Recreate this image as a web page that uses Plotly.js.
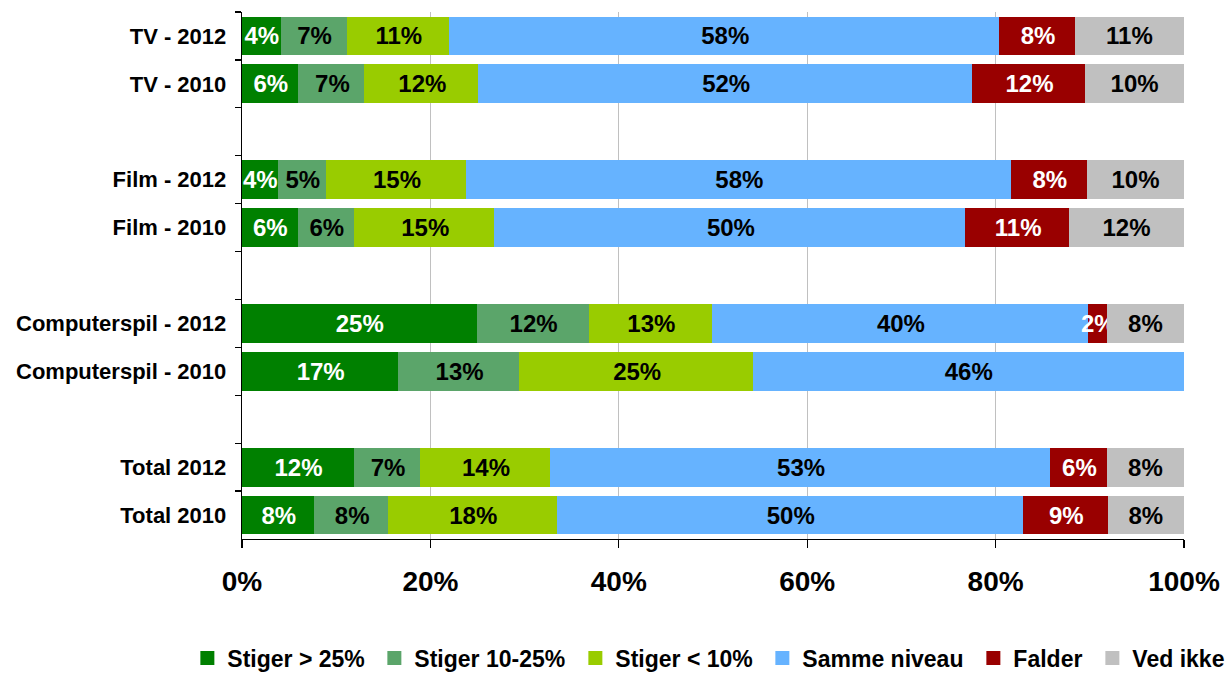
<!DOCTYPE html>
<html>
<head>
<meta charset="utf-8">
<script src="https://cdn.plot.ly/plotly-3.0.1.min.js"></script>
<style>html,body{margin:0;padding:0;background:#fff;}#chart{width:1225px;height:679px;}</style>
</head>
<body>
<div id="chart"></div>
<script>
// Categories, top to bottom (blank entries are gaps between groups)
const categories = ["TV - 2012", "TV - 2010", " ", "Film - 2012", "Film - 2010", "  ",
  "Computerspil - 2012", "Computerspil - 2010", "   ", "Total 2012", "Total 2010"];
const barCategories = ["TV - 2012", "TV - 2010", "Film - 2012", "Film - 2010",
  "Computerspil - 2012", "Computerspil - 2010", "Total 2012", "Total 2010"];

const seriesNames = ["Stiger > 25%", "Stiger 10-25%", "Stiger < 10%", "Samme niveau", "Falder", "Ved ikke"];

const stigerOver25  = [4.2, 6.1, 3.9, 6.0, 25.0, 16.7, 12.0, 7.8];
const stiger10til25 = [7.0, 7.0, 5.1, 6.0, 11.9, 12.8, 7.0, 7.8];
const stigerUnder10 = [10.9, 12.1, 14.9, 14.9, 13.1, 24.9, 13.8, 17.9];
const sammeNiveau   = [58.4, 52.4, 57.8, 50.0, 39.9, 45.5, 53.1, 49.5];
const falder        = [8.0, 12.0, 8.1, 11.0, 2.0, null, 6.0, 9.0];
const vedIkke       = [11.4, 10.3, 10.1, 12.0, 8.0, null, 8.0, 7.9];

const xTickValues = [0, 20, 40, 60, 80, 100];
const xTickLabels = ["0%", "20%", "40%", "60%", "80%", "100%"];

const seriesValues = [stigerOver25, stiger10til25, stigerUnder10, sammeNiveau, falder, vedIkke];
const colors = ["#008000", "#5BA56A", "#99CC00", "#66B3FF", "#990000", "#C0C0C0"];
const textColors = ["#ffffff", "#000000", "#000000", "#000000", "#ffffff", "#000000"];

const FONT = "Liberation Sans, Arial, sans-serif";
const LEGEND_SIZE = 23;

// measure legend text so entries are spaced as in the original
const cv = document.createElement("canvas").getContext("2d");
cv.font = "bold " + LEGEND_SIZE + "px 'Liberation Sans', Arial, sans-serif";

const traces = seriesValues.map((vals, i) => ({
  type: "bar",
  orientation: "h",
  name: seriesNames[i],
  y: barCategories,
  x: vals,
  text: vals.map(v => (v == null ? "" : Math.round(v) + "%")),
  textposition: "inside",
  insidetextanchor: "middle",
  textangle: 0,
  constraintext: "none",
  cliponaxis: false,
  textfont: {family: FONT, size: 24, color: textColors[i], weight: "bold"},
  marker: {color: colors[i], line: {width: 2, color: colors[i]}},
  legendwidth: Math.round(cv.measureText(seriesNames[i]).width) + 5,
  hoverinfo: "x+y+name"
}));

const layout = {
  width: 1225,
  height: 679,
  barmode: "stack",
  bargap: 0.23,
  margin: {l: 242, r: 41, t: 12, b: 140, autoexpand: false},
  paper_bgcolor: "#ffffff",
  plot_bgcolor: "#ffffff",
  font: {family: FONT, color: "#000000"},
  showlegend: true,
  legend: {
    orientation: "h",
    xref: "paper",
    x: -0.058, xanchor: "left",
    yref: "paper",
    y: -0.2258, yanchor: "middle",
    font: {family: FONT, size: LEGEND_SIZE, color: "#000", weight: "bold"},
    traceorder: "normal",
    itemwidth: 30,
    tracegroupgap: 0,
    borderwidth: 0
  },
  xaxis: {
    range: [0, 100],
    tickvals: xTickValues,
    ticktext: xTickLabels,
    ticks: "outside",
    ticklen: 8,
    tickcolor: "#000",
    tickwidth: 1.3,
    showline: true,
    linecolor: "#000",
    linewidth: 1.3,
    showgrid: true,
    gridcolor: "#C0C0C0",
    gridwidth: 1.3,
    zeroline: false,
    tickfont: {family: FONT, size: 28, color: "#000", weight: "bold"},
    ticklabelstandoff: 9,
    fixedrange: true
  },
  yaxis: {
    type: "category",
    categoryorder: "array",
    categoryarray: categories,
    autorange: "reversed",
    ticks: "outside",
    tickson: "boundaries",
    ticklen: 6,
    tickcolor: "#000",
    tickwidth: 1.3,
    showline: true,
    linecolor: "#000",
    linewidth: 1.3,
    showgrid: false,
    zeroline: false,
    tickfont: {family: FONT, size: 22, color: "#000", weight: "bold"},
    ticklabelstandoff: 10,
    fixedrange: true
  }
};

Plotly.newPlot("chart", traces, layout, {displayModeBar: false, staticPlot: true});
</script>
</body>
</html>
